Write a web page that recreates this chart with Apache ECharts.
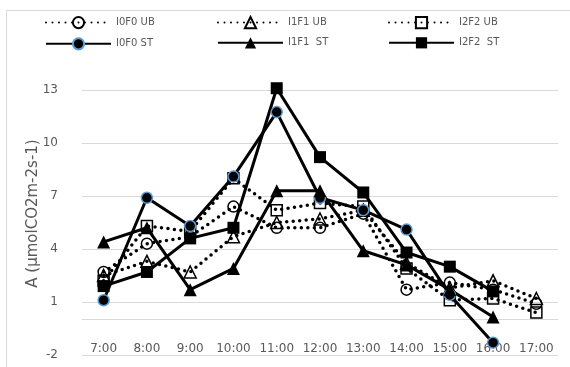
<!DOCTYPE html>
<html><head><meta charset="utf-8">
<script src="https://cdn.jsdelivr.net/npm/echarts@6/dist/echarts.min.js"></script>
<style>html,body{margin:0;padding:0;background:#fff}#c{width:570px;height:367px}</style>
</head><body><div id="c"></div>
<script>
const categories = ['7:00','8:00','9:00','10:00','11:00','12:00','13:00','14:00','15:00','16:00','17:00'];
const i0f0UB = [2.7, 4.3, 4.7, 6.4, 5.2, 5.2, 6.0, 1.7, 2.1, 1.7, 0.9];
const i1f1UB = [2.5, 3.3, 2.7, 4.7, 5.5, 5.7, 6.2, 3.2, 1.8, 2.2, 1.2];
const i2f2UB = [2.2, 5.3, 5.0, 8.0, 6.2, 6.6, 6.4, 2.9, 1.1, 1.2, 0.4];
const i0f0ST = [1.1, 6.9, 5.3, 8.1, 11.75, 6.9, 6.2, 5.1, 1.4, -1.3, null];
const i1f1ST = [4.4, 5.2, 1.7, 2.9, 7.3, 7.3, 3.9, 3.1, 1.7, 0.15, null];
const i2f2ST = [1.9, 2.7, 4.6, 5.2, 13.1, 9.2, 7.2, 3.8, 3.0, 1.6, null];
const yTicks = {min: -2, max: 13, interval: 3};

const FONT = 'DejaVu Sans';
const GRAY = '#595959';

function ub(name, data, symbol, size) {
  return {
    name, type: 'line', data, symbol, symbolSize: size, clip: false,
    lineStyle: {color: '#000', width: 3.5, type: [0, 6.5], cap: 'round'},
    itemStyle: {color: 'rgba(255,255,255,0)', borderColor: '#000', borderWidth: 1.5},
    z: 2
  };
}
function st(name, data, symbol, size, border) {
  return {
    name, type: 'line', data, symbol, symbolSize: size, clip: false,
    lineStyle: {color: '#000', width: 3, type: 'solid'},
    itemStyle: {color: '#000', borderColor: border || '#000', borderWidth: border ? 1.5 : 0},
    z: 3
  };
}

const legendBase = {
  orient: 'vertical', top: 16, padding: 0, itemWidth: 65, itemHeight: 14, itemGap: 8,
  textStyle: {color: GRAY, fontFamily: FONT, fontSize: 10}
};

const series = [
  ub('I0F0 UB', i0f0UB, 'circle', 11),
  ub('I1F1 UB', i1f1UB, 'triangle', 12),
  ub('I2F2 UB', i2f2UB, 'rect', 11),
  st('I0F0 ST', i0f0ST, 'circle', 11, '#5b9bd5'),
  st('I1F1  ST', i1f1ST, 'triangle', 13),
  st('I2F2  ST', i2f2ST, 'rect', 12)
];
// horizontal axis line at value 0
series[0].markLine = {
  silent: true, symbol: 'none', label: {show: false}, animation: false,
  lineStyle: {color: '#d9d9d9', width: 1, type: 'solid'},
  data: [{yAxis: 0}], z: 1
};

const chart = echarts.init(document.getElementById('c'), null, {renderer: 'canvas'});
chart.setOption({
  animation: false,
  backgroundColor: '#fff',
  graphic: [{type: 'rect', shape: {x: 6.5, y: 10.5, width: 600, height: 400},
    style: {fill: 'none', stroke: '#d9d9d9', lineWidth: 1}, silent: true, z: -10}],
  legend: [
    Object.assign({}, legendBase, {left: 45, data: ['I0F0 UB', 'I0F0 ST']}),
    Object.assign({}, legendBase, {left: 217, data: ['I1F1 UB', 'I1F1  ST']}),
    Object.assign({}, legendBase, {left: 388, data: ['I2F2 UB', 'I2F2  ST']})
  ],
  grid: {left: 82, right: 12, top: 90, bottom: 12, containLabel: false, outerBoundsMode: 'none'},
  xAxis: {
    type: 'category', data: categories, boundaryGap: true, position: 'bottom',
    axisLine: {show: false, onZero: false},
    axisTick: {show: false},
    axisLabel: {color: GRAY, fontFamily: FONT, fontSize: 12, inside: true, margin: 0, interval: 0, hideOverlap: false}
  },
  yAxis: {
    type: 'value', min: yTicks.min, max: yTicks.max, interval: yTicks.interval,
    name: 'A (µmolCO2m-2s-1)', nameLocation: 'middle', nameGap: 41, nameRotate: 90,
    nameMoveOverlap: false,
    nameTextStyle: {color: GRAY, fontFamily: FONT, fontSize: 15, padding: [0, 0, 0, 18]},
    axisLine: {show: false}, axisTick: {show: false},
    axisLabel: {color: GRAY, fontFamily: FONT, fontSize: 12, margin: 24},
    splitLine: {lineStyle: {color: '#d9d9d9', width: 1}}
  },
  series
});
</script></body></html>
